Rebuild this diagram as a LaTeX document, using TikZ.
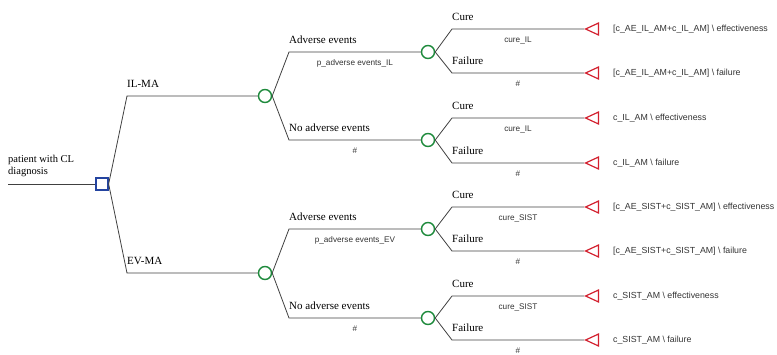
\documentclass[tikz,border=0pt]{standalone}
\usepackage{fontspec}
\setmainfont{Liberation Serif}
\setsansfont{Liberation Sans}
\usetikzlibrary{shapes.geometric,positioning}
\definecolor{chancegreen}{HTML}{1E8A3C}
\definecolor{decblue}{HTML}{2444A0}
\definecolor{termred}{HTML}{D3202E}
% chance node -> Cure / Failure with their terminal nodes
\newcommand{\outcomes}[6]{%
  \coordinate (#1a) at (452,#2);
  \coordinate (#1b) at (452,#3);
  \node[term] (#1ta) at (584,#2) {};
  \node[term] (#1tb) at (584,#3) {};
  \draw[branch] (#1.east) -- (#1a) -- node[prob] (#1pa) {#4} (#1ta.apex);
  \draw[branch] (#1.east) -- (#1b) -- node[prob] (#1pb) {\#} (#1tb.apex);
  \node[lbl] (#1la) at (#1a) {Cure};
  \node[lbl] (#1lb) at (#1b) {Failure};
  \node[payoff] (#1va) at (613,#2) {#5};
  \node[payoff] (#1vb) at (613,#3) {#6};
}

\begin{document}
\begin{tikzpicture}[x=1pt,y=-1pt,
    branch/.style={draw=black!75,line width=0.8pt},
    decision/.style={rectangle,draw=decblue,line width=1.3pt,fill=white,minimum size=12pt,inner sep=0pt},
    chance/.style={circle,draw=chancegreen,line width=1.4pt,fill=white,minimum size=13pt,inner sep=0pt},
    term/.style={isosceles triangle,isosceles triangle stretches,shape border rotate=180,draw=termred,line width=1.2pt,minimum width=12pt,minimum height=13pt,inner sep=0pt,anchor=apex},
    lbl/.style={font=\fontsize{11}{13}\selectfont,anchor=base west,inner sep=0pt,yshift=9pt},
    prob/.style={font=\sffamily\fontsize{8.2}{10}\selectfont,text=black!80,anchor=north,inner sep=0pt,yshift=-7pt},
    payoff/.style={font=\sffamily\fontsize{8.8}{10}\selectfont,text=black!80,anchor=west,inner sep=0pt}]
  \useasboundingbox (0,0) rectangle (777,354);

  % decision
  \coordinate (start) at (8,184);
  \node[decision] (root) at (102,184) {};
  \draw[branch] (start) -- (root);
  \node[font=\fontsize{10.5}{12}\selectfont,align=left,anchor=south west,inner sep=0pt] (patient) at (8,177) {patient with CL\\diagnosis};

  % strategies
  \coordinate (k1) at (127,96);
  \coordinate (k2) at (127,273);
  \node[chance] (c1) at (265,96) {};
  \node[chance] (c2) at (265,273) {};
  \draw[branch] (root.east) -- (k1) -- (c1);
  \draw[branch] (root.east) -- (k2) -- (c2);
  \node[lbl] (ilma) at (k1) {IL-MA};
  \node[lbl] (evma) at (k2) {EV-MA};

  % adverse events
  \coordinate (k11) at (289,52);
  \coordinate (k12) at (289,140);
  \coordinate (k21) at (289,229);
  \coordinate (k22) at (289,318);
  \node[chance] (c11) at (428,52) {};
  \node[chance] (c12) at (428,140) {};
  \node[chance] (c21) at (428,229) {};
  \node[chance] (c22) at (428,318) {};
  \draw[branch] (c1.east) -- (k11) -- node[prob] (p11) {p\_adverse events\_IL} (c11);
  \draw[branch] (c1.east) -- (k12) -- node[prob] (p12) {\#} (c12);
  \draw[branch] (c2.east) -- (k21) -- node[prob] (p21) {p\_adverse events\_EV} (c21);
  \draw[branch] (c2.east) -- (k22) -- node[prob] (p22) {\#} (c22);
  \node[lbl] (l11) at (k11) {Adverse events};
  \node[lbl] (l12) at (k12) {No adverse events};
  \node[lbl] (l21) at (k21) {Adverse events};
  \node[lbl] (l22) at (k22) {No adverse events};

  % cure / failure
  \outcomes{c11}{29}{73}{cure\_IL}
    {[c\_AE\_IL\_AM+c\_IL\_AM] \textbackslash{} effectiveness}
    {[c\_AE\_IL\_AM+c\_IL\_AM] \textbackslash{} failure}
  \outcomes{c12}{118}{163}{cure\_IL}
    {c\_IL\_AM \textbackslash{} effectiveness}
    {c\_IL\_AM \textbackslash{} failure}
  \outcomes{c21}{207}{251}{cure\_SIST}
    {[c\_AE\_SIST+c\_SIST\_AM] \textbackslash{} effectiveness}
    {[c\_AE\_SIST+c\_SIST\_AM] \textbackslash{} failure}
  \outcomes{c22}{296}{340}{cure\_SIST}
    {c\_SIST\_AM \textbackslash{} effectiveness}
    {c\_SIST\_AM \textbackslash{} failure}
\end{tikzpicture}
\end{document}
